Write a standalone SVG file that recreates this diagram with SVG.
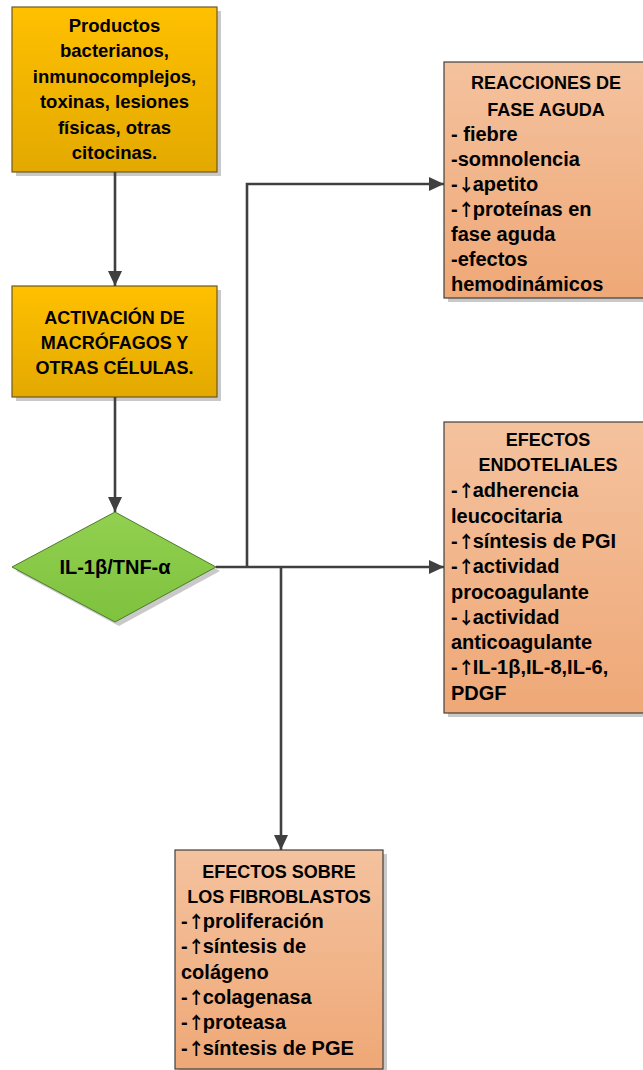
<svg xmlns="http://www.w3.org/2000/svg" width="643" height="1070" viewBox="0 0 643 1070">
<defs>
<linearGradient id="gY" x1="0" y1="0" x2="0" y2="1"><stop offset="0" stop-color="#FFC000"/><stop offset="1" stop-color="#E3A900"/></linearGradient>
<linearGradient id="gG" x1="0" y1="0" x2="0" y2="1"><stop offset="0" stop-color="#92D050"/><stop offset="1" stop-color="#7EC23E"/></linearGradient>
<linearGradient id="gO" x1="0" y1="0" x2="0" y2="1"><stop offset="0" stop-color="#F4C29E"/><stop offset="1" stop-color="#EFA877"/></linearGradient>
<marker id="ah" markerUnits="userSpaceOnUse" markerWidth="16" markerHeight="16" viewBox="0 0 16 16" refX="15" refY="8" orient="auto"><path d="M0,1 L15,8 L0,15 Z" fill="#404040"/></marker>
<style>
.t{font-family:"Liberation Sans",Arial,sans-serif;font-weight:bold;font-size:20px;fill:#000}
.h{font-size:18px}
.m{font-size:18.5px}
.a{font-family:"Noto Sans CJK JP","Noto Sans CJK SC",sans-serif;font-size:17px;font-weight:bold;letter-spacing:-2px}
.c{text-anchor:middle}
.sh{fill:#c9c9c9}
.by{fill:url(#gY);stroke:#6b5a1e;stroke-width:1.2}
.bo{fill:url(#gO);stroke:#404040;stroke-width:1.2}
.bg{fill:url(#gG);stroke:#4d7a2a;stroke-width:1}
.ln{fill:none;stroke:#404040;stroke-width:2.6}
</style>
</defs>
<rect width="643" height="1070" fill="#fff"/>

<g id="n1">
<rect class="sh" x="16" y="11" width="205" height="165"/>
<rect class="by" x="12" y="7" width="205" height="165"/>
<text class="t m c" x="114.5" y="32">Productos</text>
<text class="t m c" x="114.5" y="57">bacterianos,</text>
<text class="t m c" x="114.5" y="83">inmunocomplejos,</text>
<text class="t m c" x="114.5" y="108">toxinas, lesiones</text>
<text class="t m c" x="114.5" y="134">físicas, otras</text>
<text class="t m c" x="114.5" y="159">citocinas.</text>
</g>

<g id="n2">
<rect class="sh" x="16" y="290" width="205" height="111"/>
<rect class="by" x="12" y="286" width="205" height="111"/>
<text class="t h c" x="114.5" y="324">ACTIVACIÓN DE</text>
<text class="t h c" x="114.5" y="349">MACRÓFAGOS Y</text>
<text class="t h c" x="114.5" y="374">OTRAS CÉLULAS.</text>
</g>

<g id="n3">
<polygon class="sh" points="119,516 220,571 119,626 16,571"/>
<polygon class="bg" points="115,512 216,567 115,622 12,567"/>
<text class="t c" x="115" y="574">IL-1β/TNF-α</text>
</g>

<g id="n4">
<rect class="sh" x="448" y="66" width="200" height="236"/>
<rect class="bo" x="444" y="62" width="204" height="236"/>
<text class="t h c" x="546" y="89">REACCIONES DE</text>
<text class="t h c" x="546" y="116">FASE AGUDA</text>
<text class="t" x="451" y="141">- fiebre</text>
<text class="t" x="451" y="166">-somnolencia</text>
<text class="t" x="451" y="191">-<tspan class="a">↓</tspan>apetito</text>
<text class="t" x="451" y="216">-<tspan class="a">↑</tspan>proteínas en</text>
<text class="t" x="451" y="241">fase aguda</text>
<text class="t" x="451" y="266">-efectos</text>
<text class="t" x="451" y="291">hemodinámicos</text>
</g>

<g id="n5">
<rect class="sh" x="448" y="426" width="200" height="291"/>
<rect class="bo" x="444" y="422" width="204" height="291"/>
<text class="t h c" x="548" y="446">EFECTOS</text>
<text class="t h c" x="548" y="471">ENDOTELIALES</text>
<text class="t" x="451" y="497">-<tspan class="a">↑</tspan>adherencia</text>
<text class="t" x="451" y="523">leucocitaria</text>
<text class="t" x="451" y="548">-<tspan class="a">↑</tspan>síntesis de PGI</text>
<text class="t" x="451" y="573">-<tspan class="a">↑</tspan>actividad</text>
<text class="t" x="451" y="599">procoagulante</text>
<text class="t" x="451" y="624">-<tspan class="a">↓</tspan>actividad</text>
<text class="t" x="451" y="649">anticoagulante</text>
<text class="t" x="451" y="674">-<tspan class="a">↑</tspan>IL-1β,IL-8,IL-6,</text>
<text class="t" x="451" y="700">PDGF</text>
</g>

<g id="n6">
<rect class="sh" x="179" y="854" width="208" height="220"/>
<rect class="bo" x="175" y="850" width="208" height="219"/>
<text class="t h c" x="279" y="878">EFECTOS SOBRE</text>
<text class="t h c" x="279" y="903">LOS FIBROBLASTOS</text>
<text class="t" x="181" y="928">-<tspan class="a">↑</tspan>proliferación</text>
<text class="t" x="181" y="953">-<tspan class="a">↑</tspan>síntesis de</text>
<text class="t" x="181" y="979">colágeno</text>
<text class="t" x="181" y="1004">-<tspan class="a">↑</tspan>colagenasa</text>
<text class="t" x="181" y="1029">-<tspan class="a">↑</tspan>proteasa</text>
<text class="t" x="181" y="1055">-<tspan class="a">↑</tspan>síntesis de PGE</text>
</g>

<g id="connectors">
<line class="ln" x1="115" y1="172" x2="115" y2="286" marker-end="url(#ah)"/>
<line class="ln" x1="115" y1="397" x2="115" y2="512" marker-end="url(#ah)"/>
<line class="ln" x1="216" y1="567" x2="444" y2="567" marker-end="url(#ah)"/>
<polyline class="ln" points="247,567 247,184 444,184" marker-end="url(#ah)"/>
<line class="ln" x1="281" y1="567" x2="281" y2="850" marker-end="url(#ah)"/>
</g>
</svg>
